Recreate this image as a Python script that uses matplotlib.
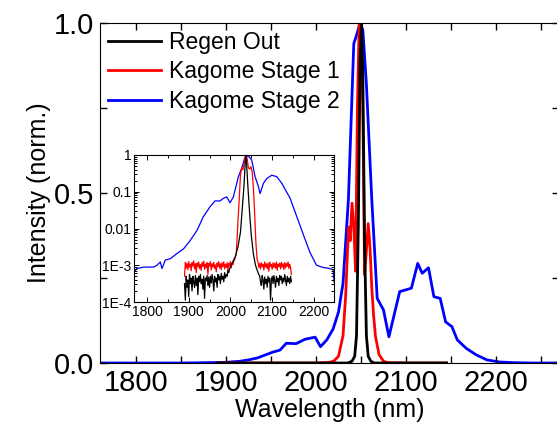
import numpy as np
import matplotlib
matplotlib.use("Agg")
import matplotlib.pyplot as plt
from matplotlib.ticker import MultipleLocator, LogLocator, NullFormatter, FixedLocator, FixedFormatter

plt.rcParams['font.family'] = ['Liberation Sans', 'DejaVu Sans']

# ---------------- main plot data (linear) ----------------
blue_wl = [1760, 1800, 1850, 1880, 1900, 1915, 1925, 1935, 1945, 1952, 1960, 1967, 1978,
           1988, 1999, 2005, 2012, 2019, 2025, 2030, 2036, 2042, 2044, 2049, 2052, 2056,
           2062, 2068, 2075, 2081, 2093, 2106, 2113, 2118, 2125, 2131, 2138, 2144, 2151,
           2157, 2167, 2178, 2190, 2204, 2220, 2240, 2280]
blue_int = [0.0, 0.0, 0.0, 0.001, 0.002, 0.005, 0.009, 0.015, 0.025, 0.032, 0.038, 0.058, 0.057,
            0.07, 0.076, 0.048, 0.068, 0.10, 0.15, 0.234, 0.48, 0.94, 0.955, 1.0, 0.98, 0.82,
            0.48, 0.19, 0.156, 0.077, 0.21, 0.22, 0.293, 0.264, 0.28, 0.195, 0.19, 0.121, 0.107,
            0.068, 0.043, 0.024, 0.009, 0.003, 0.001, 0.0, 0.0]

red_wl = [1890, 1950, 2000, 2015, 2020, 2025, 2030, 2033, 2035, 2036.5, 2038, 2040, 2042,
          2044, 2046, 2048, 2050, 2052, 2054, 2056, 2058, 2060, 2062, 2064, 2066, 2070,
          2075, 2080, 2100, 2145]
red_int = [0.0, 0.0, 0.0, 0.002, 0.006, 0.02, 0.08, 0.2, 0.33, 0.40, 0.36, 0.47, 0.40,
           0.27, 0.75, 1.0, 1.0, 0.75, 0.26, 0.33, 0.41, 0.34, 0.22, 0.14, 0.08, 0.025,
           0.005, 0.001, 0.0, 0.0]

black_wl = [1890, 2000, 2035, 2040, 2043, 2045, 2047, 2049, 2050.5, 2052, 2054, 2056,
            2058, 2061, 2065, 2070, 2145]
black_int = [0.0, 0.0, 0.0, 0.005, 0.02, 0.08, 0.4, 0.9, 1.0, 0.85, 0.35, 0.08,
             0.02, 0.005, 0.0, 0.0, 0.0]

# ---------------- inset data (log10 of intensity) ----------------
in_blue_wl = [1769, 1776, 1792, 1816, 1824, 1832, 1836, 1844, 1856, 1872, 1888, 1904, 1920,
              1935, 1951, 1963, 1975, 1983, 1991, 1999, 2007, 2019, 2027, 2035, 2039, 2045,
              2051, 2059, 2067, 2071, 2079, 2087, 2099, 2111, 2123, 2143, 2159, 2175, 2190,
              2206, 2222, 2238, 2246, 2248]
in_blue_log = [-3.18, -3.09, -3.05, -3.05, -3.0, -2.91, -3.09, -2.86, -2.82, -2.68, -2.55, -2.32, -2.05,
               -1.68, -1.41, -1.25, -1.25, -1.18, -1.14, -1.30, -1.14, -0.59, -0.36, -0.05, -0.02, -0.05,
               -0.14, -0.59, -0.86, -1.05, -0.77, -0.64, -0.55, -0.59, -0.77, -1.18, -1.68, -2.18, -2.64,
               -3.0, -3.06, -3.09, -3.12, -3.45]

red_left_wl = list(range(1890, 2011, 2))
red_left_log = [-3.30, -2.92, -3.08, -2.95, -3.12, -2.90, -3.05, -2.97, -3.15, -2.93,
                -3.02, -2.88, -3.10, -2.96, -3.20, -2.94, -3.04, -2.91, -3.09, -2.98,
                -3.14, -2.92, -3.03, -2.89, -3.11, -2.97, -3.06, -2.93, -3.25, -2.95,
                -3.02, -2.90, -3.13, -2.96, -3.05, -2.92, -3.09, -2.99, -3.18, -2.94,
                -3.03, -2.90, -3.08, -2.96, -3.12, -2.93, -3.04, -2.91, -3.10, -2.97,
                -3.06, -2.93, -3.15, -2.95, -3.02, -2.90, -3.07, -2.94, -2.98, -2.88, -2.85]
red_peak_wl = [2014, 2018, 2021, 2024, 2027, 2030, 2033, 2036, 2038, 2040, 2043, 2046, 2049,
               2052, 2055, 2058, 2061, 2064]
red_peak_log = [-2.68, -1.8, -1.2, -0.55, -0.35, -0.4, -0.2, -0.05, 0.0, -0.1, -0.35, -0.38,
                -0.32, -0.45, -0.9, -1.6, -2.4, -2.85]
red_right_wl = list(range(2066, 2147, 2))
red_right_log = [-2.92, -3.06, -2.95, -3.10, -2.93, -3.04, -2.97, -3.13, -2.91, -3.05,
                 -2.96, -3.09, -2.94, -3.16, -2.92, -3.03, -2.98, -3.11, -2.93, -3.06,
                 -2.95, -3.08, -2.91, -3.14, -2.97, -3.04, -2.94, -3.10, -2.92, -3.05,
                 -2.96, -3.12, -2.93, -3.07, -2.95, -3.03, -2.91, -3.09, -2.97, -3.06, -3.25]

blk_left_wl = list(range(1890, 2003, 2))
blk_left_log = [-3.5, -3.95, -3.3, -3.6, -3.4, -3.85, -3.25, -3.5, -3.35, -3.7,
                -3.3, -3.45, -3.6, -3.28, -3.55, -3.35, -3.8, -3.3, -3.45, -3.25,
                -3.5, -3.38, -3.65, -3.3, -3.9, -3.35, -3.42, -3.28, -3.55, -3.32,
                -3.6, -3.3, -3.48, -3.25, -3.4, -3.7, -3.3, -3.45, -3.35, -3.6,
                -3.25, -3.4, -3.3, -3.5, -3.22, -3.38, -3.3, -3.45, -3.2, -3.35,
                -3.25, -3.3, -3.15, -3.2, -3.1, -3.05, -2.98]
blk_peak_wl = [2006, 2012, 2018, 2024, 2028, 2032, 2035, 2037, 2039, 2042, 2046, 2050, 2055,
               2060, 2066]
blk_peak_log = [-2.9, -2.75, -2.5, -2.1, -1.5, -0.9, -0.3, 0.0, -0.3, -0.9, -1.6, -2.2, -2.7,
                -3.0, -3.2]
blk_right_wl = list(range(2070, 2147, 2))
blk_right_log = [-3.3, -3.45, -3.55, -3.28, -3.4, -3.65, -3.32, -3.5, -3.38, -3.6,
                 -3.3, -3.45, -3.35, -3.95, -3.4, -3.3, -3.5, -3.28, -3.42, -3.6,
                 -3.3, -3.45, -3.35, -3.55, -3.28, -3.4, -3.3, -3.5, -3.35, -3.45,
                 -3.25, -3.4, -3.55, -3.3, -3.45, -3.35, -3.5, -3.3, -3.45]

in_red_wl = red_left_wl + red_peak_wl + red_right_wl
in_red = 10 ** np.array(red_left_log + red_peak_log + red_right_log)
in_blk_wl = blk_left_wl + blk_peak_wl + blk_right_wl
in_blk = 10 ** np.array(blk_left_log + blk_peak_log + blk_right_log)
in_blue = 10 ** np.array(in_blue_log)

labels = ["Regen Out", "Kagome Stage 1", "Kagome Stage 2"]

# ---------------- figure ----------------
W, H = 557, 437
fig = plt.figure(figsize=(W / 100, H / 100), dpi=100)
ax = fig.add_axes([100 / W, 74 / H, 459 / W, 340 / H])

ax.plot(black_wl, black_int, color='black', lw=2.0, label=labels[0], zorder=3)
ax.plot(red_wl, red_int, color='#ff0000', lw=2.0, label=labels[1], zorder=2)
ax.plot(blue_wl, blue_int, color='#0000ff', lw=2.0, label=labels[2], zorder=1)

ax.set_xlim(1760, 2270)
ax.set_ylim(0, 1.0)
ax.xaxis.set_major_locator(MultipleLocator(100))
ax.xaxis.set_minor_locator(MultipleLocator(50))
ax.yaxis.set_major_locator(MultipleLocator(0.5))
ax.yaxis.set_minor_locator(MultipleLocator(0.25))
ax.yaxis.set_major_formatter(plt.FuncFormatter(lambda v, p: f"{v:.1f}"))
ax.tick_params(which='both', direction='in', top=True, right=True, width=1.0,
               labelsize=21, pad=4)
ax.tick_params(which='major', length=5)
ax.tick_params(which='minor', length=5)
ax.spines['right'].set_visible(False)
ax.set_xlabel("Wavelength (nm)", fontsize=18, labelpad=1)
ax.set_ylabel("Intensity (norm.)", fontsize=18, labelpad=2)

leg = ax.legend(loc='upper left', frameon=False, fontsize=16.5, handlelength=2.3,
                handletextpad=0.35, borderaxespad=0.1, labelspacing=0.28,
                borderpad=0.25)

# ---------------- inset ----------------
ins = fig.add_axes([134 / W, (H - 302) / H, 200 / W, 147 / H])
ins.plot(in_blue_wl, in_blue, color='#0000ff', lw=0.9, zorder=1)
ins.plot(in_red_wl, in_red, color='#ff0000', lw=0.9, zorder=2)
ins.plot(in_blk_wl, in_blk, color='black', lw=0.9, zorder=3)
ins.set_yscale('log')
ins.set_xlim(1769, 2248)
ins.set_ylim(1e-4, 1)
ins.xaxis.set_major_locator(MultipleLocator(100))
ins.xaxis.set_minor_locator(MultipleLocator(50))
ins.yaxis.set_major_locator(FixedLocator([1e-4, 1e-3, 1e-2, 1e-1, 1]))
ins.yaxis.set_major_formatter(FixedFormatter(["1E-4", "1E-3", "0.01", "0.1", "1"]))
ins.yaxis.set_minor_locator(LogLocator(base=10, subs=np.arange(2, 10) * 1.0, numticks=20))
ins.yaxis.set_minor_formatter(NullFormatter())
ins.tick_params(which='both', direction='in', top=True, right=True, width=0.7,
                labelsize=10, pad=2)
ins.tick_params(which='major', length=3.5)
ins.tick_params(which='minor', length=2)
for s in ins.spines.values():
    s.set_linewidth(0.8)

fig.savefig("out.png", dpi=100)
